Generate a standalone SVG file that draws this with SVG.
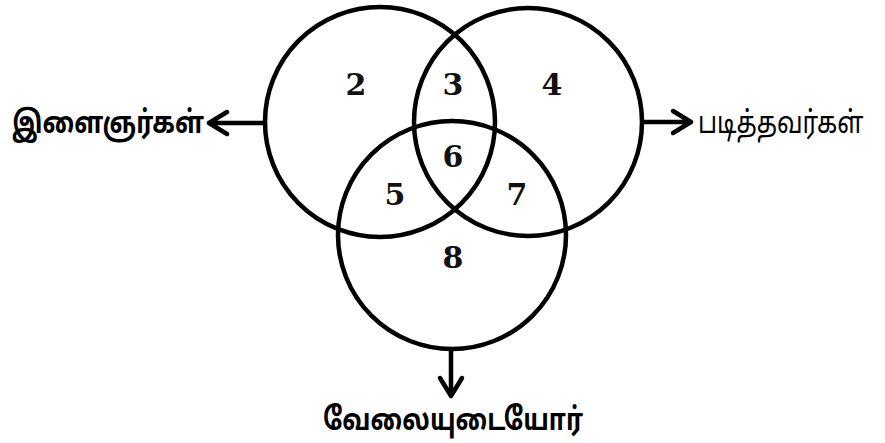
<svg xmlns="http://www.w3.org/2000/svg" width="885" height="443" viewBox="0 0 885 443">
<style>
.c{fill:none;stroke:#000;stroke-width:4.5}
.l{fill:none;stroke:#000;stroke-width:4.5;stroke-linecap:round;stroke-linejoin:round}
.n{font-family:"DejaVu Serif","Liberation Serif",serif;font-weight:bold;font-size:30px;text-anchor:middle;fill:#111}
.t{font-family:"Noto Sans Tamil","Lohit Tamil","Noto Sans",sans-serif;font-size:31px;fill:#000}
</style>
<rect width="885" height="443" fill="#fff"/>
<g id="circle-ilaignargal"><circle class="c" cx="380" cy="122" r="115"/></g>
<g id="circle-padithavargal"><circle class="c" cx="528" cy="122" r="114"/></g>
<g id="circle-velaiyudaiyor"><circle class="c" cx="452" cy="235" r="114"/></g>
<g id="regions">
<text class="n" x="356" y="95">2</text>
<text class="n" x="453" y="95">3</text>
<text class="n" x="552" y="95">4</text>
<text class="n" x="453" y="167">6</text>
<text class="n" x="395" y="205">5</text>
<text class="n" x="517" y="205">7</text>
<text class="n" x="453" y="268">8</text>
</g>
<g id="connectors">
<path class="l" d="M265 123H209M227 112L209 123L227 134"/>
<path class="l" d="M642 122H691M673 111L691 122L673 133"/>
<path class="l" d="M451 349V396M440 378L451 396L462 378"/>
</g>
<g id="label-ilaignargal"><text class="t" x="12" y="133" font-weight="bold" textLength="192" lengthAdjust="spacingAndGlyphs">இளைஞர்கள்</text></g>
<g id="label-padithavargal"><text class="t" transform="translate(698 133) scale(0.79 1)" x="0" y="0" font-size="28">படித்தவர்கள்</text></g>
<g id="label-velaiyudaiyor"><text class="t" x="323" y="430" font-weight="bold" textLength="260" lengthAdjust="spacingAndGlyphs">வேலையுடையோர்</text></g>
</svg>
